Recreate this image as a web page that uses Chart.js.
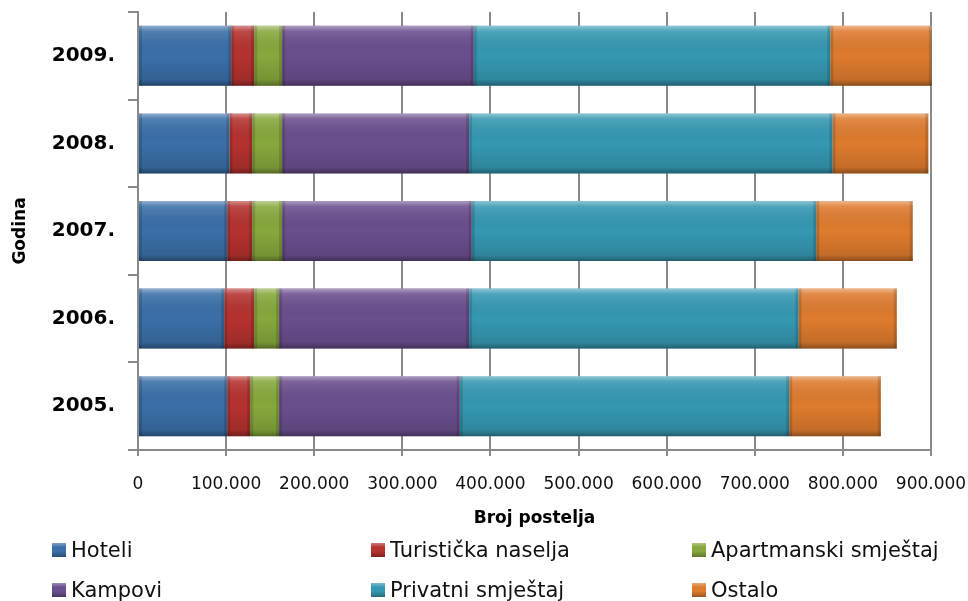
<!DOCTYPE html>
<html lang="hr">

<head>
    <meta charset="UTF-8">
    <title>Broj postelja po godinama</title>
    <script src="https://cdn.jsdelivr.net/npm/chart.js"></script>
    <style>
        html, body { margin: 0; padding: 0; background: #fff; }
        #wrap { position: relative; width: 968px; height: 601px; overflow: hidden; }
        #legend { position: absolute; left: 0; top: 0; width: 968px; height: 601px; pointer-events: none;
                  font-family: 'DejaVu Sans', sans-serif; font-size: 21px; color: #111; }
        .item { position: absolute; display: flex; align-items: center; white-space: nowrap; }
        .box { width: 14px; height: 14px; margin-right: 5px; box-sizing: border-box; }
    </style>
</head>

<body>
    <div id="wrap">
        <canvas id="bedsChart" width="968" height="601"></canvas>
        <div id="legend"></div>
    </div>

    <script>
        // Data
        const years = ['2005.', '2006.', '2007.', '2008.', '2009.'];
        const hoteli = [101200, 97800, 101200, 103800, 105700];
        const turistickaNaselja = [26100, 34000, 28300, 25700, 26100];
        const apartmanski = [32800, 28300, 34000, 34000, 31700];
        const kampovi = [205100, 215700, 215300, 212300, 217600];
        const privatni = [373900, 373900, 390900, 412400, 404600];
        const ostalo = [104000, 111500, 109600, 108800, 115300];
        const seriesNames = ['Hoteli', 'Turistička naselja', 'Apartmanski smještaj', 'Kampovi', 'Privatni smještaj', 'Ostalo'];
        const seriesValues = [hoteli, turistickaNaselja, apartmanski, kampovi, privatni, ostalo];
        const xMax = 900000;
        const xStep = 100000;

        const colors = ['#3a6fa8', '#b5322f', '#87a83c', '#6a4e8e', '#3598b2', '#de7b2e'];
        const gridGray = '#8a8a8a';

        Chart.defaults.font.family = "'DejaVu Sans', sans-serif";
        Chart.defaults.color = '#000';

        // Office-style bevel on every bar
        const bevel = {
            id: 'bevel',
            afterDatasetsDraw(chart) {
                const ctx = chart.ctx;
                ctx.save();
                chart.data.datasets.forEach((ds, i) => {
                    chart.getDatasetMeta(i).data.forEach(bar => {
                        const p = bar.getProps(['x', 'y', 'base', 'height'], true);
                        const left = Math.min(p.x, p.base);
                        const w = Math.abs(p.x - p.base);
                        const top = p.y - p.height / 2;
                        const h = p.height;
                        const g = ctx.createLinearGradient(0, top, 0, top + h);
                        g.addColorStop(0, 'rgba(255,255,255,0.45)');
                        g.addColorStop(0.09, 'rgba(255,255,255,0.12)');
                        g.addColorStop(0.5, 'rgba(0,0,0,0)');
                        g.addColorStop(0.9, 'rgba(0,0,0,0.12)');
                        g.addColorStop(1, 'rgba(0,0,0,0.38)');
                        ctx.fillStyle = g;
                        ctx.fillRect(left, top, w, h);
                        ctx.fillStyle = 'rgba(0,0,0,0.14)';
                        ctx.fillRect(left, top, 3, h);
                        ctx.fillRect(left + w - 3, top, 3, h);
                    });
                });
                ctx.restore();
            }
        };

        const datasets = seriesNames.map((name, i) => ({
            label: name,
            data: seriesValues[i],
            backgroundColor: colors[i],
            borderWidth: 0,
            barPercentage: 0.685,
            categoryPercentage: 1
        }));

        const chart = new Chart(document.getElementById('bedsChart'), {
            type: 'bar',
            data: { labels: years, datasets: datasets },
            plugins: [bevel],
            options: {
                indexAxis: 'y',
                responsive: false,
                animation: false,
                layout: { padding: { top: 12, right: 37, bottom: 66, left: 0 } },
                plugins: {
                    legend: { display: false },
                    title: { display: false },
                    tooltip: { enabled: false }
                },
                scales: {
                    x: {
                        stacked: true,
                        min: 0,
                        max: xMax,
                        afterFit(scale) {
                            scale.height = 85;
                            scale.paddingLeft = 0;
                            scale.paddingRight = 0;
                        },
                        ticks: {
                            stepSize: xStep,
                            padding: 18,
                            maxRotation: 0,
                            font: { size: 17 },
                            color: '#111',
                            callback: v => v.toString().replace(/\B(?=(\d{3})+(?!\d))/g, '.')
                        },
                        grid: { color: gridGray, lineWidth: 2, tickLength: 6 },
                        border: { color: gridGray, width: 2 },
                        title: {
                            display: true,
                            text: 'Broj postelja',
                            font: { size: 17, weight: 'bold' },
                            padding: { top: 4, bottom: 6 }
                        }
                    },
                    y: {
                        stacked: true,
                        reverse: true,
                        afterFit(scale) {
                            scale.width = 138;
                            scale.paddingTop = 0;
                            scale.paddingBottom = 0;
                        },
                        ticks: {
                            padding: 13,
                            font: { size: 20, weight: 'bold' },
                            color: '#000'
                        },
                        grid: {
                            drawOnChartArea: false,
                            color: gridGray,
                            lineWidth: 2,
                            tickLength: 10,
                            offset: true
                        },
                        border: { color: gridGray, width: 2 },
                        title: {
                            display: true,
                            text: 'Godina',
                            font: { size: 17, weight: 'bold' },
                            padding: { top: 10, bottom: 0 }
                        }
                    }
                }
            }
        });

        // Legend in three fixed columns, two rows
        const legendCols = [52, 371, 692];
        const legendRows = [551, 591];
        const legend = document.getElementById('legend');
        chart.data.datasets.forEach((ds, i) => {
            const item = document.createElement('div');
            item.className = 'item';
            item.style.left = legendCols[i % 3] + 'px';
            item.style.top = (legendRows[Math.floor(i / 3)] - 13) + 'px';
            const box = document.createElement('span');
            box.className = 'box';
            box.style.background = `linear-gradient(to bottom, rgba(255,255,255,0.35), rgba(255,255,255,0) 30%, rgba(0,0,0,0) 60%, rgba(0,0,0,0.3)), ${ds.backgroundColor}`;
            const text = document.createElement('span');
            text.textContent = ds.label;
            item.appendChild(box);
            item.appendChild(text);
            legend.appendChild(item);
        });
    </script>
</body>

</html>
